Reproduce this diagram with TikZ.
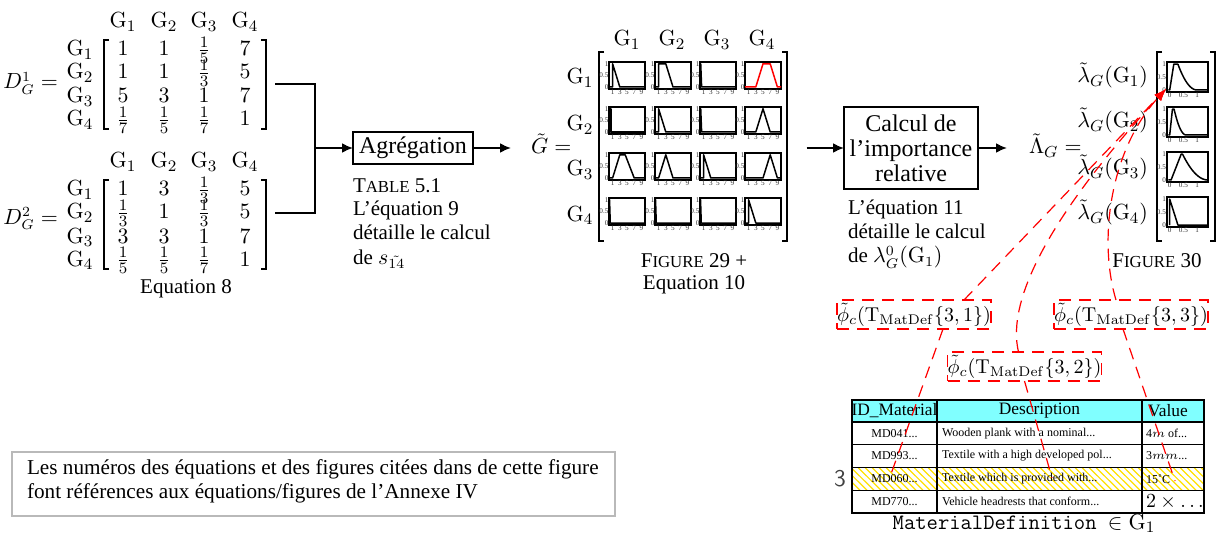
\documentclass[tikz,border=0pt]{standalone}
\usepackage[no-math]{fontspec}
\setmainfont{Liberation Serif}
\usetikzlibrary{arrows.meta}
\definecolor{hdrcyan}{RGB}{128,255,255}
\definecolor{hatchyel}{RGB}{255,225,0}
\newcommand\fakesc[2]{#1{\fontsize{8.4}{8.4}\selectfont #2}}
\newcommand\lbrk[3]{\draw[brk] (#1+5,#2) -- (#1,#2) -- (#1,#3) -- (#1+5,#3);}
\newcommand\rbrk[3]{\draw[brk] (#1-5,#2) -- (#1,#2) -- (#1,#3) -- (#1-5,#3);}
\newcommand\mrow[7]{%
  \node[mt,anchor=base] (#1l) at (80,#2) {$\mathrm{G}_{#3}$};
  \node[mt,anchor=base] (#1a) at (123,#2) {$#4$};
  \node[mt,anchor=base] (#1b) at (164,#2) {$#5$};
  \node[mt,anchor=base] (#1c) at (204,#2) {$#6$};
  \node[mt,anchor=base] (#1d) at (245,#2) {$#7$};}
\newcommand\mhead[2]{%
  \node[mt,anchor=base] (#1a) at (123,#2) {$\mathrm{G}_1$};
  \node[mt,anchor=base] (#1b) at (164,#2) {$\mathrm{G}_2$};
  \node[mt,anchor=base] (#1c) at (204,#2) {$\mathrm{G}_3$};
  \node[mt,anchor=base] (#1d) at (245,#2) {$\mathrm{G}_4$};}
\newcommand\gplot[5]{%
  \begin{scope}[shift={(#2,#3+25)},x=1.8pt,y=11.6pt]
    \draw[line width=0.7pt] (0,-0.08) rectangle (10,1.08);
    \foreach \tv [count=\i] in {1,3,5,7,9}
      \node[ticklab,anchor=north] (#1x\i) at (\tv,-0.12) {\tv};
    \foreach \tv [count=\i] in {0,0.5,1}
      \node[ticklab,anchor=east] (#1y\i) at (-0.15,\tv) {\tv};
    \draw[line width=0.75pt,line join=round,#4] #5;
  \end{scope}}
\newcommand\lplot[3]{%
  \begin{scope}[shift={(1169.7,#2+28)},x=13.67pt,y=12.93pt]
    \draw[line width=0.7pt] (-0.1,-0.08) rectangle (1.4,1.08);
    \foreach \tv [count=\i] in {0,0.5,1}
      \node[ticklab,anchor=north] (#1x\i) at (\tv,-0.12) {\tv};
    \foreach \tv [count=\i] in {0,0.5,1}
      \node[ticklab,anchor=east] (#1y\i) at (-0.14,\tv) {\tv};
    \draw[line width=0.75pt,line join=round] #3;
  \end{scope}}
\newcommand\trow[5]{%
  \node[tcell] (id#1) at (894.5,#2) {#3};
  \node[tcell,anchor=west] (ds#1) at (942,#2) {#4};
  \node[tcell,anchor=west] (va#1) at (1146,#2) {#5};}
\begin{document}
\begin{tikzpicture}[x=0.5pt,y=-0.5pt,
  every node/.style={inner sep=0pt,outer sep=0pt},
  mt/.style={font=\fontsize{11}{13}\selectfont},
  tx/.style={font=\fontsize{10.5}{12}\selectfont},
  procbox/.style={draw,line width=1pt,align=center,font=\fontsize{12}{12.5}\selectfont},
  conn/.style={line width=1pt},
  arr/.style={line width=1pt,-{Latex[length=5.5pt,width=5pt]}},
  brk/.style={line width=0.65pt},
  ticklab/.style={font=\fontsize{3.6}{4}\selectfont,text=black!80},
  redbox/.style={draw=red,line width=0.75pt,dash pattern=on 6pt off 4pt,font=\fontsize{10}{12}\selectfont,minimum height=14.5pt},
  redln/.style={draw=red,line width=0.6pt,dash pattern=on 6pt off 4pt},
  redarr/.style={redln,-{Latex[length=6pt,width=4.5pt]}},
  tcell/.style={font=\fontsize{6}{7}\selectfont},
  thead/.style={font=\fontsize{8.7}{10}\selectfont},
]
\useasboundingbox (0,0) rectangle (1216,535);

% ---------- matrix D1 ----------
\node[font=\fontsize{10.5}{13}\selectfont,anchor=base east] (d1) at (58,89) {$D_G^1 =$};
\mhead{h1}{28}
\mrow{r1}{56}{1}{1}{1}{\frac15}{7}
\mrow{s1}{79}{2}{1}{1}{\frac13}{5}
\mrow{u1}{103}{3}{5}{3}{1}{7}
\mrow{v1}{126}{4}{\frac17}{\frac15}{\frac17}{1}
\lbrk{104}{40}{129}
\rbrk{266}{40}{129}
% ---------- matrix D2 ----------
\node[font=\fontsize{10.5}{13}\selectfont,anchor=base east] (d2) at (58,224) {$D_G^2 =$};
\mhead{h2}{168}
\mrow{r2}{196}{1}{1}{3}{\frac13}{5}
\mrow{s2}{219}{2}{\frac13}{1}{\frac13}{5}
\mrow{u2}{243}{3}{3}{3}{1}{7}
\mrow{v2}{266}{4}{\frac15}{\frac15}{\frac17}{1}
\lbrk{104}{180}{269}
\rbrk{266}{180}{269}
\node[tx,anchor=base] (eq8) at (186,293) {Equation 8};

% ---------- aggregation ----------
\coordinate (m1out) at (275,84);
\coordinate (m2out) at (275,213);
\coordinate (jn) at (315,148);
\node[procbox,minimum width=60pt,minimum height=16pt] (agg) at (413,148) {Agrégation};
\draw[conn] (m1out) -| (jn) |- (m2out);
\draw[arr] (jn) -- (agg);
\node[tx,anchor=base west] (agt1) at (353,192) {\fakesc{T}{ABLE} 5.1};
\node[tx,anchor=base west] (agt2) at (353,215) {L’équation 9};
\node[tx,anchor=base west] (agt3) at (353,239) {détaille le calcul};
\node[tx,anchor=base west] (agt4) at (353,264) {de $s_{\tilde{14}}$};

% ---------- G tilde matrix ----------
\node[mt,anchor=base west] (gt) at (531,154) {$\tilde{G} =$};
\draw[arr,shorten >=10pt] (agg.east) -- (agg.east -| gt.west);
\foreach \nm/\xx in {1/627,2/672,3/717,4/762}
  \node[mt,anchor=base] (gh\nm) at (\xx,46) {$\mathrm{G}_{\nm}$};
\foreach \nm/\yy in {1/84,2/131,3/176,4/221}
  \node[mt,anchor=base] (gr\nm) at (580,\yy) {$\mathrm{G}_{\nm}$};
\lbrk{599}{52}{241}
\rbrk{787}{52}{241}
\gplot{pa}{609}{62}{}{(0,0)--(1,0)--(1,1)--(3,0)--(10,0)}
\gplot{pb}{655}{62}{}{(0,0)--(1,0)--(1,1)--(3,1)--(5,0)--(10,0)}
\gplot{pc}{700}{62}{}{(0,0)--(0.2,0)--(0.2,1)--(0.45,0)--(10,0)}
\gplot{pd}{745}{62}{red}{(0,0)--(3,0)--(5,1)--(7,1)--(9,0)--(10,0)}
\gplot{pe}{609}{107}{}{(0,0)--(0.3,0)--(0.3,1)--(0.6,1)--(0.6,0)--(10,0)}
\gplot{pf}{655}{107}{}{(0,0)--(1,0)--(1,1)--(3,0)--(10,0)}
\gplot{pg}{700}{107}{}{(0,0)--(0.2,0)--(0.2,1)--(0.45,0)--(10,0)}
\gplot{ph}{745}{107}{}{(0,0)--(3,0)--(5,1)--(7,0)--(10,0)}
\gplot{pi}{609}{153}{}{(0,0)--(1,0)--(3,1)--(4.5,1)--(7,0)--(10,0)}
\gplot{pj}{655}{153}{}{(0,0)--(1,0)--(3,1)--(5,0)--(10,0)}
\gplot{pk}{700}{153}{}{(0,0)--(1,0)--(1,1)--(3,0)--(10,0)}
\gplot{pl}{745}{153}{}{(0,0)--(5,0)--(7,1)--(9,0)--(10,0)}
\gplot{pm}{609}{198}{}{(0,0)--(0.1,0)--(0.15,1)--(0.35,0)--(10,0)}
\gplot{pn}{655}{198}{}{(0,0)--(0.1,0)--(0.15,1)--(0.35,0)--(10,0)}
\gplot{po}{700}{198}{}{(0,0)--(0.1,0)--(0.15,1)--(0.35,0)--(10,0)}
\gplot{pp}{745}{198}{}{(0,0)--(1,0)--(1,1)--(3,0)--(10,0)}
\node[minimum width=94.5pt,minimum height=94pt] (gmat) at (693,148) {};
\node[tx,anchor=base] (f29) at (694,267) {\fakesc{F}{IGURE} 29 +};
\node[tx,anchor=base] (eq10) at (694,289) {Equation 10};

% ---------- relative importance ----------
\node[procbox,minimum width=67pt,minimum height=41pt] (calc) at (911,148) {Calcul de\\l’importance\\relative};
\draw[arr,shorten <=9.5pt] (gmat) -- (calc);
\node[tx,anchor=base west] (ct1) at (848,214) {L’équation 11};
\node[tx,anchor=base west] (ct2) at (848,238) {détaille le calcul};
\node[tx,anchor=base west] (ct3) at (848,263) {de $\lambda_G^0(\mathrm{G}_1)$};
\node[mt,anchor=base west] (lam) at (1029,154) {$\tilde{\Lambda}_G =$};
\draw[arr,shorten >=11pt] (calc.east) -- (calc.east -| lam.west);
\foreach \nm/\yy in {1/83,2/128,3/175,4/220}
  \node[mt,anchor=base east] (lr\nm) at (1148,\yy) {$\tilde{\lambda}_G(\mathrm{G}_{\nm})$};
\lbrk{1157}{52}{241}
\rbrk{1215}{52}{241}
\lplot{la}{62}{(-0.05,0)--(0,0)--(0.15,1)--(0.3,1) -- plot[domain=0.3:1,samples=20] (\x,{((1-\x)/0.7)^2}) -- (1.4,0)}
\lplot{lb}{107}{(-0.05,0)--(0,0)--(0.1,1)--(0.16,1) -- plot[domain=0.16:0.6,samples=20] (\x,{((0.6-\x)/0.44)^2}) -- (1.4,0)}
\lplot{lc}{152}{(-0.05,0)--(0.05,0)--(0.42,1)--(0.47,1) -- plot[domain=0.47:1.4,samples=20] (\x,{((1.4-\x)/0.93)^2})}
\lplot{ld}{197}{(0,0)--(0,1)--(0.3,0)--(1.4,0)}
\node[tx,anchor=base] (f30) at (1157,267) {\fakesc{F}{IGURE} 30};

% ---------- phi boxes ----------
\node[redbox,minimum width=75.5pt] (phi31) at (914,314.5) {$\tilde{\phi}_c(\mathrm{T}_{\mathrm{MatDef}}\{3,1\})$};
\node[redbox,minimum width=74pt] (phi33) at (1131,314.5) {$\tilde{\phi}_c(\mathrm{T}_{\mathrm{MatDef}}\{3,3\})$};
\node[redbox,minimum width=74.5pt] (phi32) at (1024.5,366.5) {$\tilde{\phi}_c(\mathrm{T}_{\mathrm{MatDef}}\{3,2\})$};

% ---------- table ----------
\fill[hdrcyan] (852,400) rectangle (1204,422);
\begin{scope}
  \clip (852,467.5) rectangle (1204,490.25);
  \foreach \k in {0,...,56}
    \draw[hatchyel,line width=0.6pt] (830+7*\k,467.5) -- (853+7*\k,490.25);
\end{scope}
\draw[line width=0.6pt] (852,400) rectangle (1204,513)
  (852,422) -- (1204,422) (852,444.75) -- (1204,444.75)
  (852,467.5) -- (1204,467.5) (852,490.25) -- (1204,490.25)
  (937,400) -- (937,513) (1142,400) -- (1142,513);
\node[thead] (hid) at (894.5,411) {ID\_Material};
\node[thead] (hde) at (1039.5,411) {Description};
\node[thead] (hva) at (1168,411) {Value};
\trow{1}{433.4}{MD041...}{Wooden plank with a nominal...}{4$m$ of...}
\trow{2}{456.1}{MD993...}{Textile with a high developed pol...}{3$mm$...}
\trow{3}{478.9}{MD060...}{Textile which is provided with...}{15˚C}
\node[tcell] (id4) at (894.5,501.6) {MD770...};
\node[tcell,anchor=west] (ds4) at (942,501.6) {Vehicle headrests that conform...};
\node[anchor=west,font=\fontsize{10}{12}\selectfont] (va4) at (1146,501.6) {$2\times\ldots$};
\node[font=\sffamily\fontsize{12}{13}\selectfont,text=black!75] (three) at (840,479) {3};
\node[font=\ttfamily\fontsize{11}{13}\selectfont,anchor=base] (matdef) at (1024,529) {MaterialDefinition $\in\mathrm{G}_1$};

% ---------- red connectors ----------
\coordinate (tip) at (1166,89);
\coordinate (t31) at (891,474);
\coordinate (t32) at (1052,478);
\coordinate (t33) at (1175,481);
\draw[redln] ([xshift=14.5pt]phi31.south) -- (t31);
\draw[redln] (phi32.south) -- (t32);
\draw[redln] ([xshift=-4pt]phi33.south) -- (t33);
\draw[redarr] ([xshift=25pt]phi31.north) -- (tip);
\draw[redarr] ([xshift=-3pt]phi32.north) .. controls (1006,300) and (1050,215) .. (tip);
\draw[redarr] ([xshift=-7.5pt]phi33.north) .. controls (1098,240) and (1110,150) .. (tip);

% ---------- note ----------
\node[draw=gray!55,line width=0.6pt,minimum width=301.5pt,minimum height=32pt] (note) at (313.5,484) {};
\node[anchor=base west,font=\fontsize{10.6}{12}\selectfont] (note1) at (27,474) {Les numéros des équations et des figures citées dans de cette figure};
\node[anchor=base west,font=\fontsize{10.6}{12}\selectfont] (note2) at (27,498) {font références aux équations/figures de l’Annexe IV};
\end{tikzpicture}
\end{document}
